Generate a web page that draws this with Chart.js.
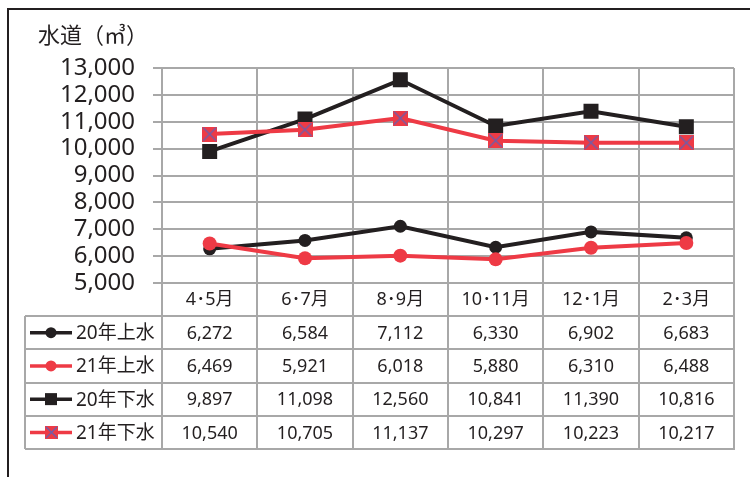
<!DOCTYPE html>
<html>
<head>
<meta charset="utf-8">
<script src="https://cdn.jsdelivr.net/npm/chart.js@4/dist/chart.umd.min.js"></script>
<style>
  html, body { margin: 0; padding: 0; background: #fff; }
  #wrap { position: relative; width: 750px; height: 477px; }
</style>
</head>
<body>
<div id="wrap"><canvas id="waterChart"></canvas></div>
<script>
const months = ['4･5月', '6･7月', '8･9月', '10･11月', '12･1月', '2･3月'];
const seriesNames = ['20年上水', '21年上水', '20年下水', '21年下水'];
const jousui20 = [6272, 6584, 7112, 6330, 6902, 6683];
const jousui21 = [6469, 5921, 6018, 5880, 6310, 6488];
const gesui20 = [9897, 11098, 12560, 10841, 11390, 10816];
const gesui21 = [10540, 10705, 11137, 10297, 10223, 10217];
const yTicks = [5000, 6000, 7000, 8000, 9000, 10000, 11000, 12000, 13000];

const FONT = '"Noto Sans", "Noto Sans CJK JP", sans-serif';
const BLACK = '#231f20';
const RED = '#ee3a45';
const XBLUE = '#6a5fae';
const GRID = '#a8a8a8';

// 赤い四角に青い×のマーカー
function crossSquare(size) {
    const c = document.createElement('canvas');
    c.width = size; c.height = size;
    const g = c.getContext('2d');
    g.fillStyle = RED;
    g.fillRect(0, 0, size, size);
    g.strokeStyle = XBLUE;
    g.lineWidth = 1.4;
    g.beginPath();
    g.moveTo(1, 1); g.lineTo(size - 1, size - 1);
    g.moveTo(size - 1, 1); g.lineTo(1, size - 1);
    g.stroke();
    return c;
}
const crossMarker = crossSquare(15);
const crossMarkerSmall = crossSquare(13);

const fmt = v => v.toLocaleString('en-US');

const tablePlugin = {
    id: 'dataTable',
    beforeDatasetsDraw(chart) {
        const { ctx, chartArea } = chart;
        const band = (chartArea.right - chartArea.left) / months.length;
        const tableTop = chartArea.bottom + 33;
        const rowH = 33.25;
        const tableBottom = tableTop + rowH * 4;
        const tableLeft = 25;
        ctx.save();
        ctx.strokeStyle = GRID;
        ctx.lineWidth = 2;
        // 縦の線 (グラフ上端から表の下端まで)
        for (let i = 0; i <= months.length; i++) {
            const px = Math.round(chartArea.left + band * i);
            ctx.beginPath();
            ctx.moveTo(px, chartArea.top);
            ctx.lineTo(px, tableBottom);
            ctx.stroke();
        }
        // 表の横線
        for (let r = 0; r <= 4; r++) {
            const py = Math.round(tableTop + rowH * r);
            ctx.beginPath();
            ctx.moveTo(tableLeft, py);
            ctx.lineTo(chartArea.right + 1, py);
            ctx.stroke();
        }
        ctx.beginPath();
        ctx.moveTo(tableLeft, tableTop);
        ctx.lineTo(tableLeft, tableBottom);
        ctx.stroke();
        ctx.restore();
    },
    afterDraw(chart) {
        const { ctx, chartArea } = chart;
        const band = (chartArea.right - chartArea.left) / months.length;
        const tableTop = chartArea.bottom + 33;
        const rowH = 33.25;
        const rows = [jousui20, jousui21, gesui20, gesui21];
        const colors = [BLACK, RED, BLACK, RED];
        ctx.save();

        // 外枠 (上と左)
        ctx.strokeStyle = BLACK;
        ctx.lineWidth = 2;
        ctx.beginPath();
        ctx.moveTo(750, 9);
        ctx.lineTo(8, 9);
        ctx.lineTo(8, 477);
        ctx.stroke();

        // 軸タイトル
        ctx.fillStyle = BLACK;
        ctx.font = '22px ' + FONT;
        ctx.textAlign = 'left';
        ctx.textBaseline = 'middle';
        ctx.fillText('水道（㎥）', 38, 37);

        rows.forEach((vals, r) => {
            const cy = tableTop + rowH * r + rowH / 2;
            // 凡例の線とマーカー
            ctx.strokeStyle = colors[r];
            ctx.lineWidth = 3.5;
            ctx.beginPath();
            ctx.moveTo(30, cy);
            ctx.lineTo(72, cy);
            ctx.stroke();
            ctx.fillStyle = colors[r];
            if (r < 2) {
                ctx.beginPath();
                ctx.arc(51, cy, 5.5, 0, Math.PI * 2);
                ctx.fill();
            } else if (r === 2) {
                ctx.fillRect(45, cy - 6, 12, 12);
            } else {
                ctx.drawImage(crossMarkerSmall, 45, cy - 6.5);
            }
            ctx.fillStyle = BLACK;
            ctx.font = '19px ' + FONT;
            ctx.textAlign = 'left';
            ctx.fillText(seriesNames[r], 76, cy + 1);
            // 数値
            ctx.font = '18px ' + FONT;
            ctx.textAlign = 'center';
            vals.forEach((v, i) => {
                ctx.fillText(fmt(v), chartArea.left + band * (i + 0.5), cy + 1);
            });
        });
        ctx.restore();
    }
};

const ctxw = document.getElementById('waterChart').getContext('2d');
const waterChart = new Chart(ctxw, {
    type: 'line',
    data: {
        labels: months,
        datasets: [
            {
                label: seriesNames[0],
                data: jousui20,
                borderColor: BLACK,
                backgroundColor: BLACK,
                borderWidth: 4,
                pointStyle: 'circle',
                pointRadius: 6.5,
                pointBorderWidth: 0,
                order: 4
            },
            {
                label: seriesNames[1],
                data: jousui21,
                borderColor: RED,
                backgroundColor: RED,
                borderWidth: 4,
                pointStyle: 'circle',
                pointRadius: 7,
                pointBorderWidth: 0,
                order: 3
            },
            {
                label: seriesNames[2],
                data: gesui20,
                borderColor: BLACK,
                backgroundColor: BLACK,
                borderWidth: 4,
                pointStyle: 'rect',
                pointRadius: 10.6,
                pointBorderWidth: 0,
                order: 2
            },
            {
                label: seriesNames[3],
                data: gesui21,
                borderColor: RED,
                backgroundColor: RED,
                borderWidth: 4,
                pointStyle: crossMarker,
                pointRadius: 8,
                order: 1
            }
        ]
    },
    options: {
        responsive: true,
        maintainAspectRatio: false,
        animation: false,
        layout: {
            padding: { top: 68, right: 16, left: 0, bottom: 0 }
        },
        plugins: {
            legend: { display: false },
            tooltip: { enabled: false }
        },
        scales: {
            x: {
                offset: true,
                grid: { display: false, drawTicks: false },
                border: { display: false },
                ticks: {
                    color: BLACK,
                    padding: 6,
                    maxRotation: 0,
                    font: { family: FONT, size: 18 }
                },
                afterFit: s => { s.height = 194; }
            },
            y: {
                min: 5000,
                max: 13000,
                afterBuildTicks: s => { s.ticks = yTicks.map(v => ({ value: v })); },
                grid: {
                    color: GRID,
                    lineWidth: 2,
                    tickLength: 9
                },
                border: { display: false },
                ticks: {
                    color: BLACK,
                    padding: 18,
                    autoSkip: false,
                    font: { family: FONT, size: 24 },
                    callback: v => fmt(v)
                },
                afterFit: s => { s.width = 162; }
            }
        }
    },
    plugins: [tablePlugin]
});
</script>
</body>
</html>
